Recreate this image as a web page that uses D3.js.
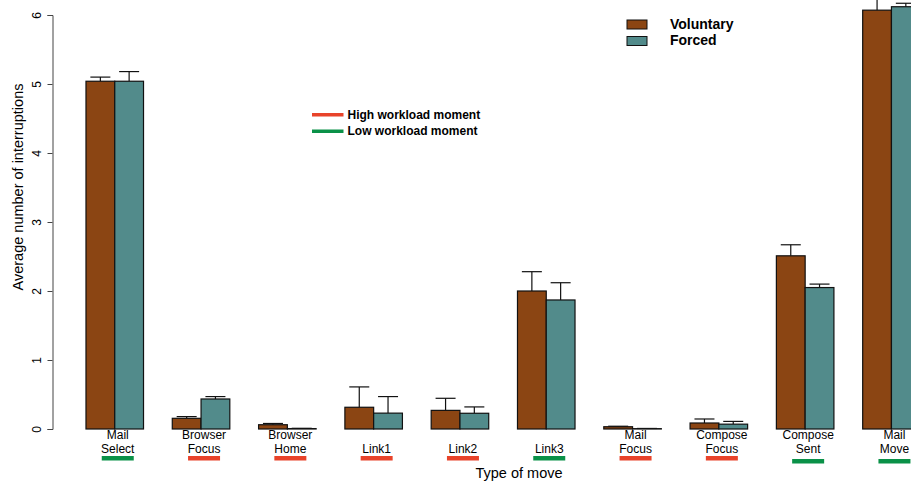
<!DOCTYPE html>
<html>
<head>
<meta charset="utf-8">
<script src="https://cdn.jsdelivr.net/npm/d3@7"></script>
<style>
  html, body { margin: 0; padding: 0; background: #fff; }
  svg { display: block; font-family: "Liberation Sans", Arial, sans-serif; }
</style>
</head>
<body>
<div id="chart"></div>
<script>
// move types, two label lines each
const categories = [
  ['Mail', 'Select'], ['Browser', 'Focus'], ['Browser', 'Home'], ['', 'Link1'], ['', 'Link2'],
  ['', 'Link3'], ['Mail', 'Focus'], ['Compose', 'Focus'], ['Compose', 'Sent'], ['Mail', 'Move'],
];
const voluntary = [5.04, 0.155, 0.062, 0.315, 0.27, 2.0, 0.033, 0.087, 2.51, 6.07];
const forced = [5.04, 0.435, 0.006, 0.23, 0.228, 1.87, 0.005, 0.07, 2.05, 6.12];
const voluntaryTop = [5.1, 0.18, 0.08, 0.61, 0.445, 2.28, 0.04, 0.145, 2.67, 6.4];
const forcedTop = [5.18, 0.47, 0.01, 0.47, 0.32, 2.12, 0.008, 0.11, 2.1, 6.17];
const workload = ['low', 'high', 'high', 'high', 'high', 'low', 'high', 'high', 'low', 'low'];
const yTicks = [0, 1, 2, 3, 4, 5, 6];
const seriesNames = ['Voluntary', 'Forced'];

const seriesColor = { Voluntary: '#8B4513', Forced: '#528B8B' };
const workloadColor = { high: '#E8432A', low: '#0A9148' };

const width = 911;
const height = 481;

const svg = d3.select('#chart')
  .append('svg')
  .attr('width', width)
  .attr('height', height);

const keys = categories.map((c, i) => i);

const x = d3.scaleBand()
  .domain(keys)
  .range([71.6, 934.6])
  .paddingInner(1 / 3)
  .paddingOuter(1 / 6);

const xInner = d3.scaleBand()
  .domain(seriesNames)
  .range([0, x.bandwidth()]);

const y = d3.scaleLinear()
  .domain([0, 6])
  .range([429, 15]);

// y axis
const yAxis = svg.append('g')
  .attr('transform', 'translate(52.5,0)')
  .call(d3.axisLeft(y).tickValues(yTicks).tickSize(5).tickPadding(0).tickFormat(d3.format('d')));
yAxis.select('.domain').attr('stroke', '#444');
yAxis.selectAll('.tick line').attr('stroke', '#444');
yAxis.selectAll('.tick text')
  .attr('x', 0)
  .attr('y', -12)
  .attr('dy', 0)
  .attr('transform', 'rotate(-90)')
  .attr('text-anchor', 'middle')
  .attr('font-size', 12)
  .attr('fill', '#000')
  .attr('font-family', '"Liberation Sans", Arial, sans-serif');

svg.append('text')
  .attr('transform', 'translate(23,187) rotate(-90)')
  .attr('text-anchor', 'middle')
  .attr('font-size', 14.5)
  .text('Average number of interruptions');

// bars
const rows = keys.map((i) => ({
  i,
  vals: [
    { s: 'Voluntary', v: voluntary[i], top: voluntaryTop[i] },
    { s: 'Forced', v: forced[i], top: forcedTop[i] },
  ],
}));

const groups = svg.append('g')
  .selectAll('g')
  .data(rows)
  .join('g')
  .attr('transform', (d) => `translate(${x(d.i)},0)`);

groups.selectAll('line.err')
  .data((d) => d.vals)
  .join('line')
  .attr('class', 'err')
  .attr('x1', (d) => xInner(d.s) + xInner.bandwidth() / 2)
  .attr('x2', (d) => xInner(d.s) + xInner.bandwidth() / 2)
  .attr('y1', (d) => y(d.v))
  .attr('y2', (d) => y(d.top))
  .attr('stroke', '#111')
  .attr('stroke-width', 1.2);

groups.selectAll('line.cap')
  .data((d) => d.vals)
  .join('line')
  .attr('class', 'cap')
  .attr('x1', (d) => xInner(d.s) + xInner.bandwidth() / 2 - 10)
  .attr('x2', (d) => xInner(d.s) + xInner.bandwidth() / 2 + 10)
  .attr('y1', (d) => y(d.top))
  .attr('y2', (d) => y(d.top))
  .attr('stroke', '#111')
  .attr('stroke-width', 1.2);

groups.selectAll('rect')
  .data((d) => d.vals)
  .join('rect')
  .attr('x', (d) => xInner(d.s))
  .attr('y', (d) => y(d.v))
  .attr('width', xInner.bandwidth())
  .attr('height', (d) => y(0) - y(d.v))
  .attr('fill', (d) => seriesColor[d.s])
  .attr('stroke', '#111')
  .attr('stroke-width', 1.2);

// category labels
const labels = svg.append('g')
  .selectAll('g')
  .data(keys)
  .join('g')
  .attr('transform', (i) => `translate(${x(i) + x.bandwidth() / 2 + 3},0)`);

labels.append('text')
  .attr('y', 438.8)
  .attr('text-anchor', 'middle')
  .attr('font-size', 12)
  .text((i) => categories[i][0]);

labels.append('text')
  .attr('y', 452.8)
  .attr('text-anchor', 'middle')
  .attr('font-size', 12)
  .text((i) => categories[i][1]);

labels.append('rect')
  .attr('x', -16)
  .attr('y', (i) => (i >= 8 ? 459 : 456))
  .attr('width', 32)
  .attr('height', 4.5)
  .attr('fill', (i) => workloadColor[workload[i]]);

svg.append('text')
  .attr('x', 519)
  .attr('y', 478)
  .attr('text-anchor', 'middle')
  .attr('font-size', 14.5)
  .text('Type of move');

// series legend
const legend = svg.append('g')
  .selectAll('g')
  .data(seriesNames)
  .join('g')
  .attr('transform', (d, i) => `translate(627,${20 + i * 16.5})`);

legend.append('rect')
  .attr('width', 20)
  .attr('height', 9)
  .attr('fill', (d) => seriesColor[d])
  .attr('stroke', '#111')
  .attr('stroke-width', 1);

legend.append('text')
  .attr('x', 43)
  .attr('y', 8.8)
  .attr('font-size', 14)
  .attr('font-weight', 'bold')
  .text((d) => d);

// workload legend
const workloadLegend = svg.append('g')
  .selectAll('g')
  .data([['high', 'High workload moment'], ['low', 'Low workload moment']])
  .join('g')
  .attr('transform', (d, i) => `translate(312,${114.5 + i * 16.5})`);

workloadLegend.append('rect')
  .attr('x', 0)
  .attr('y', -1.5)
  .attr('width', 31.5)
  .attr('height', 3.5)
  .attr('fill', (d) => workloadColor[d[0]]);

workloadLegend.append('text')
  .attr('x', 35.5)
  .attr('y', 4.3)
  .attr('font-size', 12)
  .attr('font-weight', 'bold')
  .text((d) => d[1]);
</script>
</body>
</html>
